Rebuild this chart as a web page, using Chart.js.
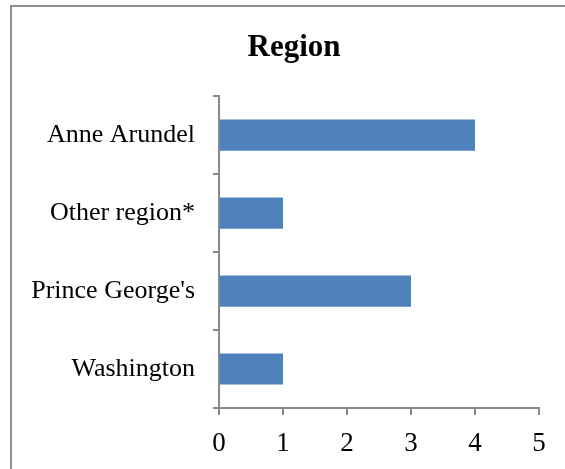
<!DOCTYPE html>
<html>
<head>
<meta charset="utf-8">
<script src="https://cdn.jsdelivr.net/npm/chart.js@4"></script>
<style>
  body { margin: 0; background: #fff; overflow: hidden; }
  #wrap { position: relative; width: 565px; height: 469px; overflow: hidden; }
  #frame {
    position: absolute; left: 10px; top: 5px; width: 580px; height: 500px;
    border-left: 2px solid #8e8e8e; border-top: 2px solid #8e8e8e;
    pointer-events: none;
  }
  canvas { position: absolute; left: 0; top: 0; }
</style>
</head>
<body>
<div id="wrap">
  <canvas id="chart" width="565" height="469"></canvas>
  <div id="frame"></div>
</div>
<script>
const regions = ['Anne Arundel', 'Other region*', "Prince George's", 'Washington'];
const counts = [4, 1, 3, 1];
const xTicks = [0, 1, 2, 3, 4, 5];

const serif = "'Liberation Serif', 'Times New Roman', serif";
const axisGrey = '#8a8a8a';

// let the category labels spill left of the padded area instead of being clipped
const unclipLabels = {
  id: 'unclipLabels',
  afterLayout(chart) {
    chart.scales.y.left = 0;
  }
};

const ctx = document.getElementById('chart').getContext('2d');
new Chart(ctx, {
  type: 'bar',
  data: {
    labels: regions,
    datasets: [{
      data: counts,
      backgroundColor: '#4f81bd',
      borderWidth: 0,
      barPercentage: 0.4,
      categoryPercentage: 1
    }]
  },
  options: {
    indexAxis: 'y',
    responsive: false,
    animation: false,
    layout: { padding: { left: 49, right: 26, top: 0, bottom: 0 } },
    plugins: {
      legend: { display: false },
      tooltip: { enabled: false },
      title: {
        display: true,
        text: 'Region',
        color: '#000',
        font: { family: serif, size: 31, weight: 'bold', lineHeight: 1.2 },
        padding: { top: 29, bottom: 30 }
      }
    },
    scales: {
      x: {
        min: 0,
        max: 5,
        afterFit: s => { s.height = 61; },
        afterBuildTicks: s => { s.ticks = xTicks.map(v => ({ value: v })); },
        grid: { drawOnChartArea: false, drawTicks: true, tickLength: 7, color: axisGrey, lineWidth: 2 },
        border: { display: true, color: axisGrey, width: 2 },
        ticks: { color: '#000', padding: 13, font: { family: serif, size: 27 } }
      },
      y: {
        afterFit: s => { s.width = 170; },
        grid: { drawOnChartArea: false, drawTicks: true, tickLength: 6, color: axisGrey, lineWidth: 2, offset: true },
        border: { display: true, color: axisGrey, width: 2 },
        ticks: { color: '#000', padding: 18, font: { family: serif, size: 26 } }
      }
    }
  },
  plugins: [unclipLabels]
});
</script>
</body>
</html>
